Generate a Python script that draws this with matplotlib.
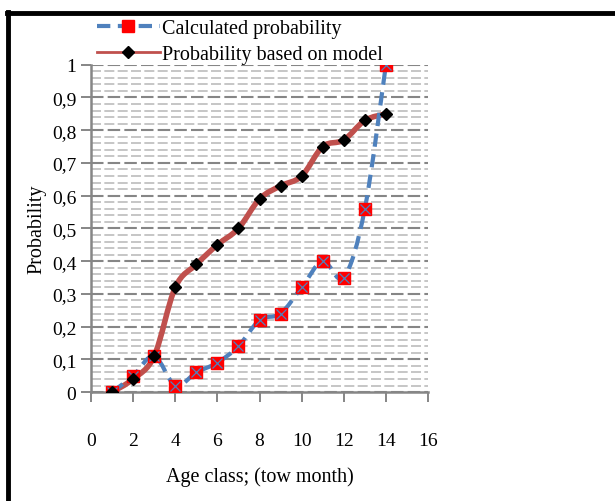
import matplotlib
matplotlib.use('Agg')
import matplotlib.pyplot as plt
from matplotlib.path import Path
from matplotlib.patches import PathPatch
from matplotlib.lines import Line2D
from matplotlib.ticker import MultipleLocator, FuncFormatter
import numpy as np

plt.rcParams['font.family'] = ['Liberation Serif', 'DejaVu Serif']

# data
age_class = [1, 2, 3, 4, 5, 6, 7, 8, 9, 10, 11, 12, 13, 14]
calculated = [0, 0.05, 0.11, 0.02, 0.06, 0.09, 0.14, 0.22, 0.24, 0.32, 0.40, 0.35, 0.56, 1.0]
model = [0, 0.04, 0.11, 0.32, 0.39, 0.45, 0.50, 0.59, 0.63, 0.66, 0.75, 0.77, 0.83, 0.85]

x_ticks = [0, 2, 4, 6, 8, 10, 12, 14, 16]

BLUE = '#4f81bd'
RED = '#c0504d'


def smooth_path(xs, ys):
    # Excel-like smoothed line: Catmull-Rom segments as cubic Bezier curves
    pts = np.column_stack([xs, ys]).astype(float)
    verts = [pts[0]]
    codes = [Path.MOVETO]
    n = len(pts)
    for i in range(n - 1):
        p0 = pts[i - 1] if i > 0 else pts[i]
        p1 = pts[i]
        p2 = pts[i + 1]
        p3 = pts[i + 2] if i + 2 < n else pts[i + 1]
        c1 = p1 + (p2 - p0) / 6.0
        c2 = p2 - (p3 - p1) / 6.0
        verts += [c1, c2, p2]
        codes += [Path.CURVE4] * 3
    return Path(verts, codes)


fig = plt.figure(figsize=(6.15, 5.02), dpi=100)
ax = fig.add_axes([0.148, 0.217, 0.548, 0.652])

ax.set_xlim(0, 16)
ax.set_ylim(0, 1)

# grid lines
ax.yaxis.set_major_locator(MultipleLocator(0.1))
ax.yaxis.set_minor_locator(MultipleLocator(0.02))
ax.xaxis.set_major_locator(MultipleLocator(2))
ax.grid(axis='y', which='minor', color='#bcbcbc', linestyle=(0, (6, 2)), linewidth=1.2)
ax.grid(axis='y', which='major', color='#868686', linestyle=(0, (6, 2)), linewidth=1.5)
ax.set_axisbelow(True)

ax.add_patch(PathPatch(smooth_path(age_class, model), fill=False, edgecolor=RED,
                       linewidth=4, capstyle='round', zorder=3))
ax.add_patch(PathPatch(smooth_path(age_class, calculated), fill=False, edgecolor=BLUE,
                       linewidth=3, linestyle=(0, (3.2, 1.8)), zorder=4))

ax.plot(age_class, calculated, linestyle='none', marker='s', markersize=9,
        markerfacecolor='#ff0000', markeredgecolor='#ff0000', zorder=5)
ax.plot(age_class, calculated, linestyle='none', marker='x', markersize=7,
        markeredgecolor=BLUE, markeredgewidth=0.9, zorder=6)
ax.plot(age_class, model, linestyle='none', marker='D', markersize=6.5,
        markerfacecolor='black', markeredgecolor='black', zorder=7)

for side in ['top', 'right']:
    ax.spines[side].set_visible(False)
for side in ['left', 'bottom']:
    ax.spines[side].set_color('#868686')
    ax.spines[side].set_linewidth(1.8)

ax.tick_params(axis='both', which='major', direction='out', length=7, width=1.4,
               color='#868686', labelsize=14)
ax.tick_params(axis='y', which='minor', length=0)
ax.tick_params(axis='x', pad=22)
ax.set_xticks(x_ticks)
ax.yaxis.set_major_formatter(FuncFormatter(
    lambda v, p: '0' if abs(v) < 1e-9 else ('1' if abs(v - 1) < 1e-9 else f'{v:.1f}'.replace('.', ','))))

ax.set_xlabel('Age class; (tow month)', fontsize=14.5, labelpad=12)
ax.set_ylabel('Probability', fontsize=14.5, labelpad=4)

handles = [
    Line2D([], [], color=BLUE, linewidth=3, linestyle=(0, (3.2, 1.8)), marker='s',
           markersize=9, markerfacecolor='#ff0000', markeredgecolor='#ff0000'),
    Line2D([], [], color=RED, linewidth=2, marker='D', markersize=6.5,
           markerfacecolor='black', markeredgecolor='black'),
]
fig.legend(handles, ['Calculated probability', 'Probability based on model'],
           loc='center', bbox_to_anchor=(0.39, 0.916), frameon=False, fontsize=14.5,
           handlelength=3.1, handletextpad=0.1, labelspacing=0.35, borderaxespad=0)

# black frame (top and left edges visible in the reference)
fig.add_artist(Line2D([0.011, 1.0], [0.973, 0.973], color='black', linewidth=3.5,
                      transform=fig.transFigure))
fig.add_artist(Line2D([0.0135, 0.0135], [0.0, 0.975], color='black', linewidth=3.5,
                      transform=fig.transFigure))

fig.savefig('out.png', dpi=100)
